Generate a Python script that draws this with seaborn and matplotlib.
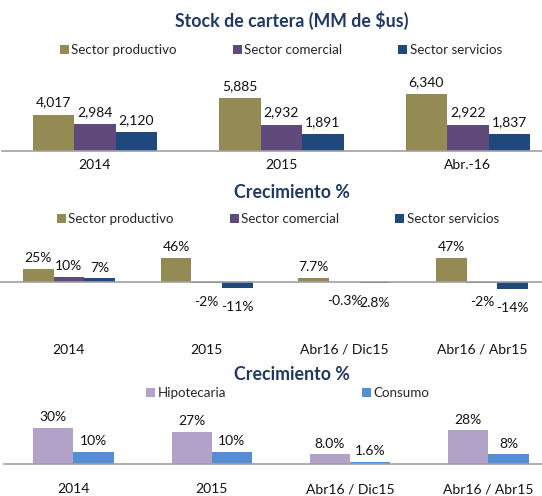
import matplotlib
matplotlib.use("Agg")
import matplotlib.pyplot as plt
from matplotlib.patches import Patch
import numpy as np
import pandas as pd
import seaborn as sns

# --- data -------------------------------------------------------------------
STOCK_PERIODS = ["2014", "2015", "Abr.-16"]
STOCK_PRODUCTIVO = [4017, 5885, 6340]
STOCK_COMERCIAL = [2984, 2932, 2922]
STOCK_SERVICIOS = [2120, 1891, 1837]

GROWTH_PERIODS = ["2014", "2015", "Abr16 / Dic15", "Abr16 / Abr15"]
GROWTH_PRODUCTIVO = [25, 46, 7.7, 47]
GROWTH_COMERCIAL = [10, -2, -0.3, -2]
GROWTH_SERVICIOS = [7, -11, -2.8, -14]
GROWTH_PRODUCTIVO_LABELS = ["25%", "46%", "7.7%", "47%"]
GROWTH_COMERCIAL_LABELS = ["10%", "-2%", "-0.3%", "-2%"]
GROWTH_SERVICIOS_LABELS = ["7%", "-11%", "2.8%", "-14%"]

HOUSE_PERIODS = ["2014", "2015", "Abr16 / Dic15", "Abr16 / Abr15"]
HOUSE_HIPOTECARIA = [30, 27, 8.0, 28]
HOUSE_CONSUMO = [10, 10, 1.6, 8]
HOUSE_HIPOTECARIA_LABELS = ["30%", "27%", "8.0%", "28%"]
HOUSE_CONSUMO_LABELS = ["10%", "10%", "1.6%", "8%"]

SECTORS = ["Sector productivo", "Sector comercial", "Sector servicios"]
HOUSEHOLD = ["Hipotecaria", "Consumo"]

PALETTE = {
    "Sector productivo": "#948A54",
    "Sector comercial": "#604A7B",
    "Sector servicios": "#1F497D",
    "Hipotecaria": "#B3A2C7",
    "Consumo": "#558ED5",
}
TITLE_COLOR = "#1F3864"
AXIS_GREY = "#A0A0A0"
TEXT_COLOR = "#111111"

W, H = 542, 496


def long_frame(periods, series):
    rows = []
    for name, values in series.items():
        for p, v in zip(periods, values):
            rows.append({"periodo": p, "serie": name, "valor": v})
    return pd.DataFrame(rows)


def px_axes(fig, left, right, top, bottom):
    return fig.add_axes([left / W, 1 - bottom / H, (right - left) / W, (bottom - top) / H])


def style_axis(ax, n, pad, center_dir, center_len):
    sns.despine(ax=ax, left=True)
    ax.patch.set_alpha(0)
    ax.spines["bottom"].set_position(("data", 0))
    ax.spines["bottom"].set_color(AXIS_GREY)
    ax.spines["bottom"].set_linewidth(1.2)
    ax.set_yticks([])
    ax.set_xlabel("")
    ax.set_ylabel("")
    ax.set_xlim(-0.5, n - 0.5)
    ax.set_xticks(np.arange(n + 1) - 0.5, minor=True)
    ax.tick_params(axis="x", which="minor", direction="inout", length=5, width=1.2, color=AXIS_GREY)
    ax.tick_params(axis="x", which="major", direction=center_dir, length=center_len, width=1.2,
                   color=AXIS_GREY, pad=pad, labelsize=10, labelcolor=TEXT_COLOR)


def add_labels(ax, label_lists, up=3.5, down=9.5):
    for container, labels in zip(ax.containers, label_lists):
        for bar, text in zip(container, labels):
            h = bar.get_height()
            x = bar.get_x() + bar.get_width() / 2
            if h >= 0:
                ax.annotate(text, (x, h), xytext=(0, up), textcoords="offset points",
                            ha="center", va="bottom", fontsize=10, color=TEXT_COLOR)
            else:
                ax.annotate(text, (x, h), xytext=(0, -down), textcoords="offset points",
                            ha="center", va="top", fontsize=10, color=TEXT_COLOR)


def add_header(fig, title, title_y, names, legend_y, legend_x, spacing):
    fig.text(292 / W, 1 - title_y / H, title, ha="center", va="center",
             fontsize=12.8, fontweight="bold", color=TITLE_COLOR)
    handles = [Patch(facecolor=PALETTE[n], edgecolor="none", label=n) for n in names]
    fig.legend(handles=handles, loc="center", bbox_to_anchor=(legend_x / W, 1 - legend_y / H),
               ncol=len(names), frameon=False, fontsize=9.6, handlelength=0.65, handleheight=0.65,
               handletextpad=0.2, columnspacing=spacing, borderaxespad=0, borderpad=0)


sns.set_theme(style="white")
plt.rcParams["font.family"] = ["Lato", "DejaVu Sans"]

fig = plt.figure(figsize=(W / 100, H / 100), dpi=100)

# panel 1: stock
stock = long_frame(STOCK_PERIODS, dict(zip(SECTORS, [STOCK_PRODUCTIVO, STOCK_COMERCIAL, STOCK_SERVICIOS])))
ax1 = px_axes(fig, 1.7, 561, 70, 151)
sns.barplot(data=stock, x="periodo", y="valor", hue="serie", palette=PALETTE, width=0.667,
            saturation=1, errorbar=None, legend=False, linewidth=0, ax=ax1)
ax1.set_ylim(0, 9000)
style_axis(ax1, len(STOCK_PERIODS), pad=2.5, center_dir="out", center_len=3)
add_labels(ax1, [[f"{v:,}" for v in s] for s in [STOCK_PRODUCTIVO, STOCK_COMERCIAL, STOCK_SERVICIOS]], up=4.5)
add_header(fig, "Stock de cartera (MM de $us)", 20, SECTORS, 50, 281, 4.2)

# panel 2: growth by sector
growth = long_frame(GROWTH_PERIODS, dict(zip(SECTORS, [GROWTH_PRODUCTIVO, GROWTH_COMERCIAL, GROWTH_SERVICIOS])))
ax2 = px_axes(fig, 0, 551, 235, 300)
sns.barplot(data=growth, x="periodo", y="valor", hue="serie", palette=PALETTE, width=0.667,
            saturation=1, errorbar=None, legend=False, linewidth=0, ax=ax2)
ax2.set_ylim(-34.6, 90.4)
style_axis(ax2, len(GROWTH_PERIODS), pad=42, center_dir="inout", center_len=5)
add_labels(ax2, [GROWTH_PRODUCTIVO_LABELS, GROWTH_COMERCIAL_LABELS, GROWTH_SERVICIOS_LABELS])
add_header(fig, "Crecimiento %", 192, SECTORS, 219, 278, 4.2)

# panel 3: growth households
house = long_frame(HOUSE_PERIODS, dict(zip(HOUSEHOLD, [HOUSE_HIPOTECARIA, HOUSE_CONSUMO])))
ax3 = px_axes(fig, 4.3, 557.6, 405, 464)
sns.barplot(data=house, x="periodo", y="valor", hue="serie", palette=PALETTE, width=0.58,
            saturation=1, errorbar=None, legend=False, linewidth=0, ax=ax3)
ax3.set_ylim(0, 49.2)
style_axis(ax3, len(HOUSE_PERIODS), pad=11, center_dir="out", center_len=3)
add_labels(ax3, [HOUSE_HIPOTECARIA_LABELS, HOUSE_CONSUMO_LABELS])
add_header(fig, "Crecimiento %", 375, HOUSEHOLD, 393, 288, 10.2)

fig.savefig("out.png", dpi=100)
